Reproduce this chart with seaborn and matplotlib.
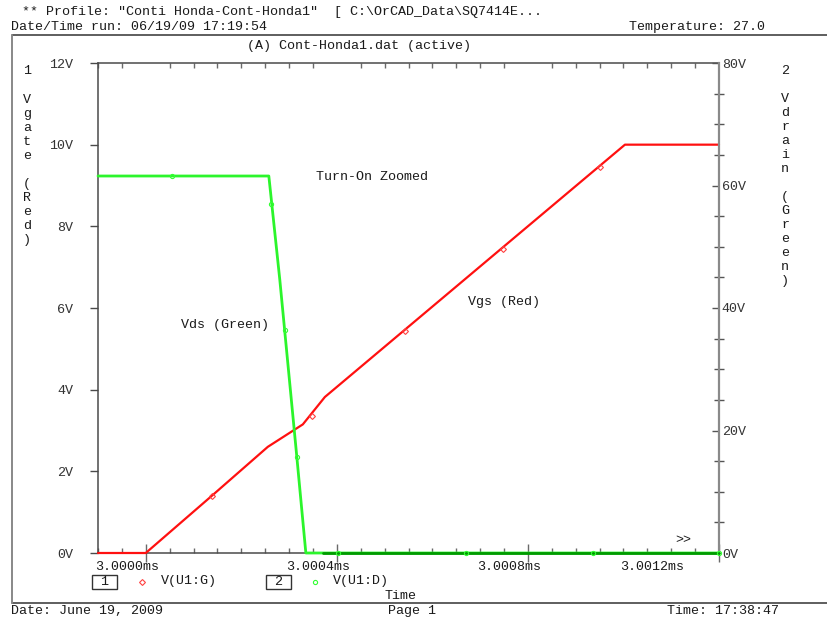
import numpy as np
import pandas as pd
import matplotlib
matplotlib.use("Agg")
import matplotlib.pyplot as plt
import matplotlib.ticker as mticker
from matplotlib import transforms
from matplotlib.lines import Line2D
from matplotlib.patches import Rectangle
import seaborn as sns

# ---- simulation traces (time in ms) ----
vgate_time = [2.9999, 3.0000, 3.0001382, 3.0002555, 3.0003288, 3.0003749, 3.0010031, 3.0012]
vgate_volts = [0.0, 0.0, 1.40, 2.60, 3.15, 3.82, 10.0, 10.0]

vdrain_time = [2.9999, 3.0002576, 3.0002806, 3.0003162, 3.0003351, 3.0003707, 3.0012]
vdrain_volts = [61.55, 61.55, 44.6, 15.7, 0.0, 0.0, 0.0]

# trace symbols
vgate_mark_time = [3.0001382, 3.0003476, 3.0005424, 3.0007476, 3.0009508]
vgate_mark_volts = [1.40, 3.36, 5.44, 7.44, 9.45]
vdrain_mark_time = [3.0000545, 3.0002618, 3.0002911, 3.0003162, 3.0004021, 3.0006702, 3.0009361, 3.0012]
vdrain_mark_volts = [61.55, 57.0, 36.4, 15.7, 0.0, 0.0, 0.0, 0.0]

# ---- axis ticks ----
left_ticks = [0, 2, 4, 6, 8, 10, 12]
left_labels = ["0V", "2V", "4V", "6V", "8V", "10V", "12V"]
right_ticks = [0, 20, 40, 60, 80]
right_labels = ["0V", "20V", "40V", "60V", "80V"]
time_ticks = [3.0000, 3.0004, 3.0008, 3.0012]
time_labels = ["3.0000ms", "3.0004ms", "3.0008ms", "3.0012ms"]

W, H = 827, 617
sns.set_theme(style="white")
FONT = ["Liberation Mono", "DejaVu Sans Mono"]
plt.rcParams["font.family"] = FONT
FS = 9.6
TXT = "#1a1a1a"

fig = plt.figure(figsize=(W / 100, H / 100), dpi=100)
fig.patch.set_facecolor("white")


def fx(x):
    return x / W


def fy(y):
    return 1 - y / H


def ftext(x, y, s, **kw):
    kw.setdefault("va", "center")
    kw.setdefault("ha", "left")
    fig.text(fx(x), fy(y), s, fontsize=FS, color=TXT, **kw)


ax = fig.add_axes([fx(98), fy(553), fx(719) - fx(98), fy(63) - fy(553)])
ax2 = ax.twinx()

# Vgate (left axis)
gate_df = pd.DataFrame({"t": vgate_time, "v": vgate_volts})
sns.lineplot(data=gate_df, x="t", y="v", ax=ax, color="#ff1010", lw=1.6, zorder=3)
ax.plot(vgate_mark_time, vgate_mark_volts, ls="none", marker="D", ms=3,
        mfc="none", mec="#ff4040", mew=0.8, zorder=4)

# Vdrain (right axis)
drain_df = pd.DataFrame({"t": vdrain_time, "v": vdrain_volts})
sns.lineplot(data=drain_df, x="t", y="v", ax=ax2, color="#2cf52c", lw=2.0, zorder=3)
sns.lineplot(data=drain_df.iloc[5:], x="t", y="v", ax=ax2, color="#009a00", lw=2.0, zorder=3.5)
ax2.plot(vdrain_mark_time, vdrain_mark_volts, ls="none", marker="o", ms=3,
         mfc="none", mec="#33ff33", mew=0.8, zorder=4)

for a in (ax, ax2):
    for ln in a.lines:
        ln.set_clip_on(False)

ax.set_xlim(2.9999, 3.0012)
ax.set_ylim(0, 12)
ax2.set_ylim(0, 80)
for a in (ax, ax2):
    a.set_xlabel("")
    a.set_ylabel("")
    a.grid(False)
    a.patch.set_alpha(0)

# spines
for s in ("left", "top", "bottom"):
    ax.spines[s].set_visible(True)
    ax.spines[s].set_color("#4a4a4a")
    ax.spines[s].set_linewidth(1.1)
    ax.spines[s].set_zorder(1)
ax.spines["right"].set_visible(False)
for s in ("left", "top", "bottom"):
    ax2.spines[s].set_visible(False)
ax2.spines["right"].set_visible(True)
ax2.spines["right"].set_color("#8a8a8a")
ax2.spines["right"].set_linewidth(1.6)

# left ticks
ax.yaxis.set_major_locator(mticker.FixedLocator(left_ticks))
ax.set_yticklabels(left_labels)
ax.tick_params(axis="y", which="major", direction="out", length=5.8, width=1,
               color="#4a4a4a", pad=12, labelsize=FS, labelcolor="#333333", left=True)

# x ticks
ax.xaxis.set_major_locator(mticker.FixedLocator(time_ticks))
ax.xaxis.set_minor_locator(mticker.MultipleLocator(0.00005))
ax.xaxis.set_major_formatter(mticker.NullFormatter())
ax.tick_params(axis="x", which="major", direction="inout", length=13, width=1,
               color="#6a6a6a", bottom=True, top=False)
ax.tick_params(axis="x", which="minor", direction="in", length=3.6, width=1,
               color="#6a6a6a", bottom=True, top=True)

# right ticks
ax2.yaxis.set_major_locator(mticker.FixedLocator(right_ticks))
ax2.yaxis.set_minor_locator(mticker.MultipleLocator(5))
ax2.set_yticklabels(right_labels)
ax2.tick_params(axis="y", which="major", direction="in", length=5, width=1,
                color="#555555", pad=2, labelsize=FS, labelcolor="#333333", right=True)
ax2.tick_params(axis="y", which="minor", direction="inout", length=7.2, width=1,
                color="#555555", right=True)

# time labels sit a little left of their ticks
lab_tr = transforms.offset_copy(ax.get_xaxis_transform(), fig=fig, x=-19, y=-14, units="dots")
for t, s in zip(time_ticks[:-1], time_labels[:-1]):
    ax.text(t, 0, s, transform=lab_tr, ha="center", va="center", fontsize=FS, color=TXT)
last_tr = transforms.offset_copy(ax.get_xaxis_transform(), fig=fig, x=-67, y=-14, units="dots")
ax.text(time_ticks[-1], 0, time_labels[-1], transform=last_tr, ha="center", va="center",
        fontsize=FS, color=TXT)

# outer frame
fig.add_artist(Line2D([fx(12), 1], [fy(35), fy(35)], transform=fig.transFigure, color="#333333", lw=1.1))
fig.add_artist(Line2D([fx(12), 1], [fy(603), fy(603)], transform=fig.transFigure, color="#333333", lw=1.1))
fig.add_artist(Line2D([fx(12), fx(12)], [fy(35), fy(603)], transform=fig.transFigure, color="#888888", lw=1.4))

# header
ftext(22, 12, '** Profile: "Conti Honda-Cont-Honda1"  [ C:\\OrCAD_Data\\SQ7414E...')
ftext(11, 27, "Date/Time run: 06/19/09 17:19:54")
ftext(629, 27, "Temperature: 27.0")
ftext(247, 46, "(A) Cont-Honda1.dat (active)")

# footer
ftext(11, 611, "Date: June 19, 2009")
ftext(388, 611, "Page 1")
ftext(667, 611, "Time: 17:38:47")
ftext(385, 596, "Time")

# legend row
for bx, num in ((92, "1"), (266, "2")):
    fig.add_artist(Rectangle((fx(bx), fy(589)), fx(25), 14 / H, transform=fig.transFigure,
                             fill=False, ec="#333333", lw=1.0))
    ftext(bx + 12.5, 582, num, ha="center")
fig.add_artist(Line2D([fx(142)], [fy(582)], transform=fig.transFigure, ls="none", marker="D",
                      ms=3, mfc="none", mec="#ff4040", mew=0.8))
ftext(161, 581, "V(U1:G)")
fig.add_artist(Line2D([fx(315)], [fy(582)], transform=fig.transFigure, ls="none", marker="o",
                      ms=3, mfc="none", mec="#33ff33", mew=0.8))
ftext(333, 581, "V(U1:D)")

# stacked axis titles
ftext(27, 71, "1", ha="center")
for i, ch in enumerate("Vgate (Red)"):
    if ch != " ":
        ftext(27, 100 + 14 * i, ch, ha="center")
ftext(785, 71, "2", ha="center")
for i, ch in enumerate("Vdrain (Green)"):
    if ch != " ":
        ftext(785, 99 + 14 * i, ch, ha="center")

# annotations
ftext(316, 177, "Turn-On Zoomed")
ftext(181, 325, "Vds (Green)")
ftext(468, 302, "Vgs (Red)")
ftext(675, 540, ">>")

fig.savefig("out.png", dpi=100, facecolor="white")
